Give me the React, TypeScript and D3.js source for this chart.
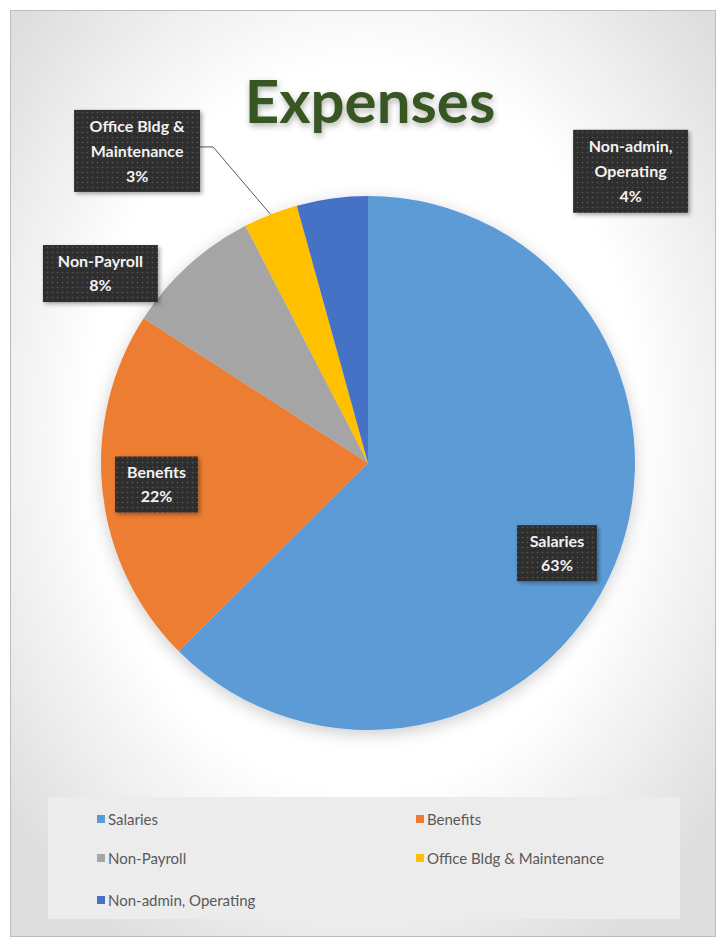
import React from "react";
import * as d3 from "d3";

const categories = ["Salaries", "Benefits", "Non-Payroll", "Office Bldg & Maintenance", "Non-admin, Operating"];
const values = [62.6, 21.6, 8.3, 3.3, 4.3];
const labelLines = [["Salaries"], ["Benefits"], ["Non-Payroll"], ["Office Bldg &", "Maintenance"], ["Non-admin,", "Operating"]];
const colors = ["#5B9BD5", "#ED7D31", "#A5A5A5", "#FFC000", "#4472C4"];
const title = "Expenses";

// layout (annotation placement, in polar terms around the pie centre)
const W = 719, H = 940;
const cx = 368, cy = 463, R = 267;
const labelPlace = [
  { angle: 115.5, rf: 0.784, w: 80, h: 56 },
  { angle: 264.2, rf: 0.796, w: 83, h: 56 },
  { angle: 305.3, rf: 1.228, w: 115, h: 57 },
  { angle: 323.5, rf: 1.454, w: 126, h: 82 },
  { angle: 42.0, rf: 1.47, w: 115, h: 83 },
];
const legendCols = [97, 416];
const legendRows = [820, 859, 901];

const FONT = "Lato, 'Open Sans', 'DejaVu Sans', sans-serif";

export default function App() {
  const pie = d3.pie<number>().sort(null).value((d) => d)(values);
  const arc = d3.arc<d3.PieArcDatum<number>>().innerRadius(0).outerRadius(R);
  const total = d3.sum(values);
  const pct = d3.format(".0%");

  const polar = (deg: number, r: number) => {
    const a = (deg * Math.PI) / 180;
    return [cx + r * Math.sin(a), cy - r * Math.cos(a)];
  };

  // leader for Office slice
  const off = pie[3];
  const midA = ((off.startAngle + off.endAngle) / 2) * 180 / Math.PI;
  const p0 = polar(midA, R);
  const ob = labelPlace[3];
  const [obx, oby] = polar(ob.angle, R * ob.rf);

  return (
    <svg width={W} height={H} style={{ position: "absolute", left: 0, top: 0 }} fontFamily={FONT}>
      <defs>
        <radialGradient id="bg" cx="50%" cy="45%" r="65%">
          <stop offset="0.6" stopColor="#ffffff" />
          <stop offset="1" stopColor="#dedede" />
        </radialGradient>
        <pattern id="dots" width="5" height="5" patternUnits="userSpaceOnUse">
          <rect width="5" height="5" fill="#2f2f2f" />
          <circle cx="2.5" cy="2.5" r="0.8" fill="#5a5a5a" />
        </pattern>
        <filter id="shadow" x="-20%" y="-20%" width="140%" height="140%">
          <feDropShadow dx="2" dy="2" stdDeviation="2" floodColor="#000" floodOpacity="0.35" />
        </filter>
        <filter id="tshadow" x="-10%" y="-20%" width="120%" height="150%">
          <feDropShadow dx="1" dy="3" stdDeviation="3" floodColor="#000" floodOpacity="0.3" />
        </filter>
        <filter id="pshadow" x="-10%" y="-10%" width="120%" height="120%">
          <feDropShadow dx="0" dy="4" stdDeviation="8" floodColor="#000" floodOpacity="0.2" />
        </filter>
      </defs>
      <rect x={10.5} y={10.5} width={705} height={926} fill="url(#bg)" stroke="#bdbdbd" />
      <text x={370} y={123} textAnchor="middle" fontSize={60} fontWeight={700} fill="#375623" filter="url(#tshadow)">
        {title}
      </text>
      <g transform={`translate(${cx},${cy})`} filter="url(#pshadow)">
        {pie.map((d, i) => (
          <path key={i} d={arc(d) || ""} fill={colors[i]} />
        ))}
      </g>
      <polyline
        points={`${p0[0]},${p0[1]} ${obx + ob.w / 2 + 13},${oby - 4} ${obx + ob.w / 2},${oby - 4}`}
        fill="none"
        stroke="#595959"
        strokeWidth={1}
      />
      {pie.map((d, i) => {
        const lp = labelPlace[i];
        const [x, y] = polar(lp.angle, R * lp.rf);
        const lines = [...labelLines[i], pct(d.value / total)];
        const lh = lines.length === 3 ? 25 : 24;
        const y0 = y - ((lines.length - 1) * lh) / 2;
        return (
          <g key={i}>
            <rect x={x - lp.w / 2} y={y - lp.h / 2} width={lp.w} height={lp.h} fill="url(#dots)" filter="url(#shadow)" />
            {lines.map((t, j) => (
              <text key={j} x={x} y={y0 + j * lh} dy="0.35em" textAnchor="middle" fontSize={16} fontWeight={700} fill="#f2f2f2">
                {t}
              </text>
            ))}
          </g>
        );
      })}
      <rect x={48} y={797} width={632} height={122} fill="#ececec" />
      {categories.map((c, i) => {
        const x = legendCols[i % 2];
        const y = legendRows[Math.floor(i / 2)];
        return (
          <g key={c}>
            <rect x={x} y={y - 5} width={8} height={8} fill={colors[i]} />
            <text x={x + 11} y={y} dy="0.35em" fontSize={15} fill="#595959">
              {c}
            </text>
          </g>
        );
      })}
    </svg>
  );
}
